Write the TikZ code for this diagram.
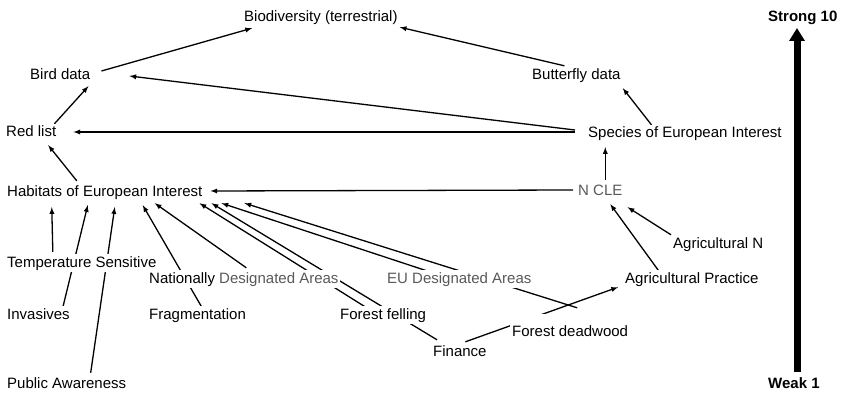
\documentclass[tikz,border=0pt]{standalone}
\usepackage{fontspec}
\setmainfont{Liberation Sans}
\usetikzlibrary{%
  arrows,%
  arrows.meta,%
  backgrounds%
}
\colorlet{dimtext}{black!65}
\tikzset{>=latex, concept/.style = {anchor=base west, inner sep=2pt, fill=white,
    text height=11pt, text depth=3pt, font=\fontsize{15}{18}\selectfont},%
  link/.style = {->, line width=1.3pt}}

\begin{document}
\begin{tikzpicture}[x=1pt,y=-1pt]
    \useasboundingbox (0,0) rectangle (842,395);
    \node[concept] (bio) at (242,22) {Biodiversity (terrestrial)};
    \node[concept] (bird) at (28,80) {Bird data};
    \node[concept] (butterfly) at (530,80) {Butterfly data};
    \node[concept] (redlist) at (4,137) {Red list};
    \node[concept] (species) at (586,138) {Species of European Interest};
    \node[concept] (habitats) at (5,197) {Habitats of European Interest};
    \node[concept,text=dimtext] (ncle) at (576,196) {N CLE};
    \node[concept] (agrin) at (671,248) {Agricultural N};
    \node[concept] (agrip) at (623,283) {Agricultural Practice};
    \node[concept] (natda) at (147,283) {Nationally \textcolor{dimtext}{Designated Areas}};
    \node[concept,text=dimtext] (euda) at (385,283) {EU Designated Areas};
    \node[concept] (tempsens) at (5,267) {Temperature Sensitive};
    \node[concept] (invasives) at (5,319) {Invasives};
    \node[concept] (fragment) at (147,319) {Fragmentation};
    \node[concept] (felling) at (338,319) {Forest felling};
    \node[concept,text height=20pt] (deadwood) at (510,336) {Forest deadwood};
    \node[concept] (finance) at (431,356) {Finance};
    \node[concept] (public) at (5,388) {Public Awareness};
    % strength scale
    \node[concept,font=\fontsize{15}{18}\selectfont\bfseries] (strong) at (766,22) {Strong 10};
    \node[concept,font=\fontsize{15}{18}\selectfont\bfseries] (weak) at (766,388) {Weak 1};
    \coordinate (scalelow) at (797,372);
    \coordinate (scalehigh) at (797,28);
    \draw[line width=7pt,-{Triangle[width=15pt,length=13pt]}] (scalelow) -- (scalehigh);
    % links
    \begin{scope}[on background layer]
    \draw[link] ([shift={(9,-5)}]bird.east) -- ([shift={(10,1)}]bio.south west);
    \draw[link] ([shift={(-12,-1)}]butterfly.north) -- (bio.south east);
    \draw[link] ([shift={(-11,-4)}]species.west) -- ([shift={(37,0)}]bird.east);
    \draw[link] ([shift={(-11,-2)}]species.west) -- ([shift={(15,-1)}]redlist.east);
    \draw[link] ([shift={(-33.5,0)}]species.north) -- ([shift={(0,3)}]butterfly.south east);
    \draw[link] ([shift={(-4,0)}]redlist.north east) -- ([shift={(-4,1)}]bird.south east);
    \draw[link] ([shift={(-28,-3)}]habitats.north) -- ([shift={(17,3)}]redlist.south);
    \draw[link] ([shift={(5,-3)}]ncle.north) -- ([shift={(5,4)}]ncle.north |- species.south);
    \draw[link] ([shift={(-3,-2)}]ncle.west) -- ([shift={(6,-2)}]habitats.east);
    \draw[link] (agrin.north west) -- ([shift={(3,6)}]ncle.south east);
    \draw[link] ([shift={(-32.5,2)}]agrip.north) -- ([shift={(10,3)}]ncle.south);
    \draw[link] ([shift={(5.5,-1)}]finance.north) -- ([shift={(-5,-1)}]agrip.south west);
    \draw[link] ([shift={(-29,-2)}]tempsens.north) -- ([shift={(-53,5)}]habitats.south);
    \draw[link] ([shift={(24.5,1)}]invasives.north) -- ([shift={(-17,3)}]habitats.south);
    \draw[link] ([shift={(24,-2)}]public.north) -- ([shift={(10,5)}]habitats.south);
    \draw[link] ([shift={(4,1)}]fragment.north) -- ([shift={(38,3)}]habitats.south);
    \draw[link] ([shift={(2.5,-2)}]natda.north) -- ([shift={(50,1)}]habitats.south);
    \draw[link] ([shift={(-18,1)}]felling.north) -- ([shift={(-5,1)}]habitats.south east);
    \draw[link] ([shift={(6,-3)}]finance.north west) -- ([shift={(7,1)}]habitats.south east);
    \draw[link] ([shift={(-26.5,3)}]euda.north) -- ([shift={(17,1)}]habitats.south east);
    \draw[link] ([shift={(7,-6)}]deadwood.north) -- ([shift={(40,1)}]habitats.south east);
    \end{scope}
\end{tikzpicture}
\end{document}
